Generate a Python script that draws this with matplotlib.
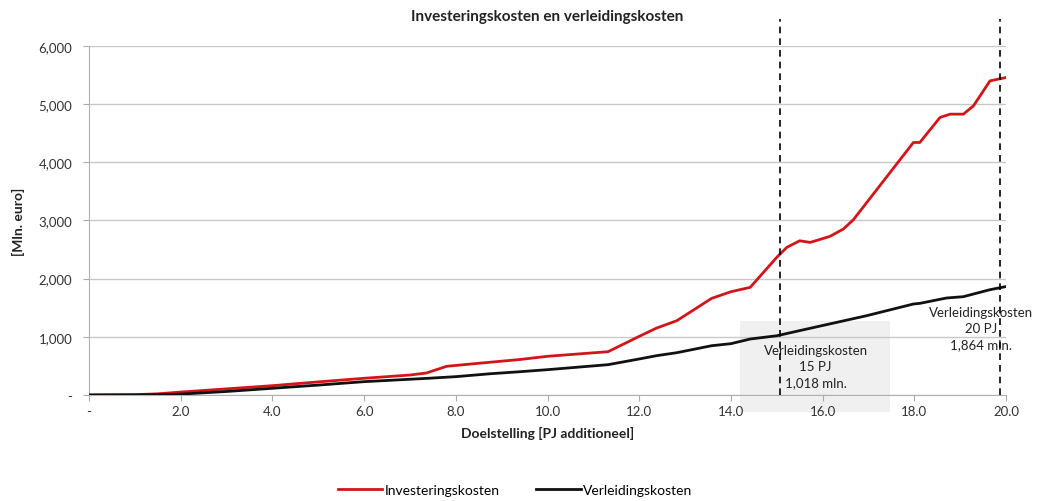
import matplotlib
matplotlib.use("Agg")
import matplotlib.pyplot as plt
from matplotlib.patches import Rectangle
from matplotlib.ticker import FuncFormatter

# Data
inv_x = [0, 1.0, 1.5, 2.0, 3.0, 4.0, 5.0, 6.0, 7.0, 7.36, 7.8, 8.5, 9.4, 10.0, 11.32,
         12.0, 12.38, 12.82, 13.58, 14.0, 14.42, 15.0, 15.22, 15.5, 15.73, 16.16,
         16.45, 16.67, 17.98, 18.12, 18.56, 18.78, 19.07, 19.29, 19.65, 20.0]
inv_y = [0, 5, 20, 50, 105, 160, 225, 287, 343, 378, 493, 545, 610, 665, 744,
         1008, 1151, 1277, 1661, 1775, 1850, 2366, 2538, 2651, 2623, 2727,
         2852, 3012, 4341, 4341, 4771, 4828, 4828, 4971, 5400, 5458]
ver_x = [0, 1.0, 1.5, 2.0, 3.0, 4.0, 5.0, 6.0, 7.4, 8.0, 8.75, 9.4, 10.0, 11.32,
         12.0, 12.38, 12.82, 13.58, 14.0, 14.42, 15.0, 15.98, 16.96, 17.98, 18.12,
         18.7, 19.07, 19.65, 20.0]
ver_y = [0, 2, 5, 15, 60, 115, 170, 229, 287, 315, 365, 400, 435, 521,
         619, 676, 727, 847, 882, 962, 1018, 1191, 1363, 1564, 1575,
         1667, 1690, 1810, 1864]
x_ticks = [0, 2, 4, 6, 8, 10, 12, 14, 16, 18, 20]
y_ticks = [0, 1000, 2000, 3000, 4000, 5000, 6000]
marker_x = [15.08, 19.87]
ann1 = "Verleidingskosten\n15 PJ\n1,018 mln."
ann2 = "Verleidingskosten\n20 PJ\n1,864 mln."

plt.rcParams['font.family'] = ['Lato', 'DejaVu Sans']

fig = plt.figure(figsize=(10.41, 5.02), dpi=100)
ax = fig.add_axes([0.0855, 0.2112, 0.8809, 0.6952])

ax.set_xlim(0, 20)
ax.set_ylim(0, 6000)

ax.plot(inv_x, inv_y, color='#d41418', lw=2.0, label='Investeringskosten', zorder=4)
ax.plot(ver_x, ver_y, color='#111111', lw=2.0, label='Verleidingskosten', zorder=4)

# shaded annotation box
ax.add_patch(Rectangle((14.2, -290), 3.27, 1560, facecolor='#f0f0f0', edgecolor='none',
                       clip_on=False, zorder=0.5))
ax.text(15.85, 880, ann1, ha='center', va='top', fontsize=9.5, color='#222222',
        linespacing=1.4, zorder=3)
ax.text(19.45, 1530, ann2, ha='center', va='top', fontsize=9.5, color='#222222',
        linespacing=1.4, zorder=3)

for mx in marker_x:
    ax.plot([mx, mx], [0, 6460], color='black', lw=1.2, ls=(0, (4, 3)),
            clip_on=False, zorder=5)

ax.set_xticks(x_ticks)
ax.set_yticks(y_ticks)
ax.xaxis.set_major_formatter(FuncFormatter(lambda v, p: '-' if v == 0 else f"{v:.1f}"))
ax.yaxis.set_major_formatter(FuncFormatter(lambda v, p: '-' if v == 0 else f"{int(v):,}"))
ax.tick_params(axis='both', labelsize=9.5, colors='#aaaaaa', labelcolor='#333333', length=4)
ax.tick_params(axis='y', pad=8)

ax.grid(axis='y', color='#c8c8c8', lw=1)
ax.set_axisbelow(True)
for s in ['top', 'right']:
    ax.spines[s].set_visible(False)
for s in ['left', 'bottom']:
    ax.spines[s].set_color('#b0b0b0')

ax.set_title('Investeringskosten en verleidingskosten', fontsize=11, fontweight='bold',
             color='#222222', pad=19)
ax.set_xlabel('Doelstelling [PJ additioneel]', fontsize=10, fontweight='bold', color='#222222',
              labelpad=6)
ax.set_ylabel('[Mln. euro]', fontsize=10, fontweight='bold', color='#222222', labelpad=10)

fig.legend(loc='lower center', bbox_to_anchor=(0.495, -0.014), ncol=2, frameon=False,
           fontsize=10, handlelength=3.2, columnspacing=2.6, handletextpad=0.2)

fig.savefig('out.png', dpi=100)
